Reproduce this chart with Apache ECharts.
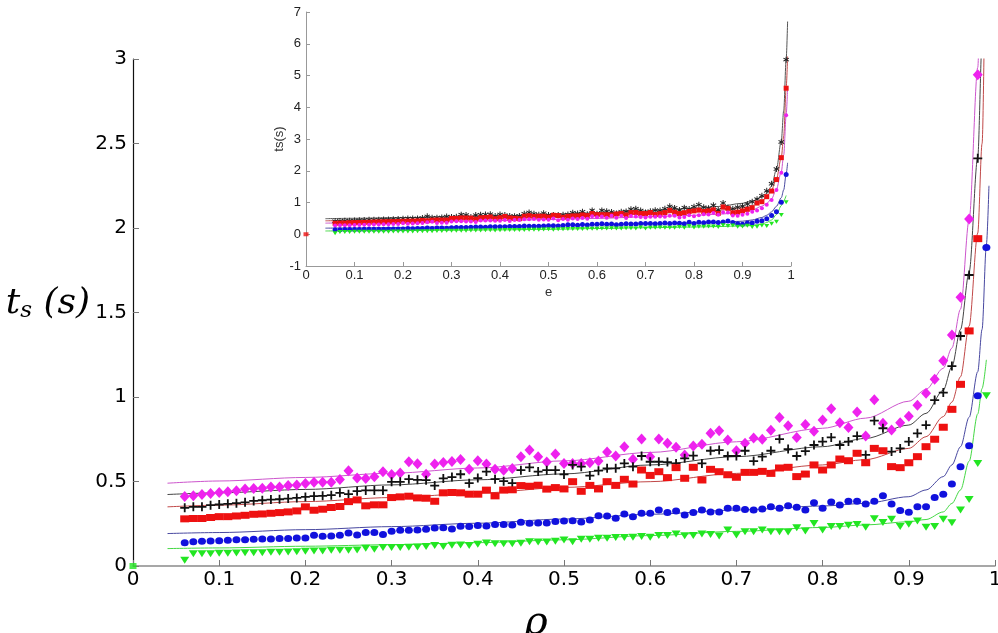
<!DOCTYPE html>
<html><head><meta charset="utf-8">
<script src="https://cdn.jsdelivr.net/npm/echarts@6/dist/echarts.min.js"></script>
<style>html,body{margin:0;padding:0;background:#fff}#c{width:998px;height:633px}</style>
</head><body><div id="c"></div>
<script>
// ---------------- data ----------------
const rho = [
 0.06,0.07,0.08,0.09,0.10,0.11,0.12,0.13,0.14,0.15,
 0.16,0.17,0.18,0.19,0.20,0.21,0.22,0.23,0.24,0.25,
 0.26,0.27,0.28,0.29,0.30,0.31,0.32,0.33,0.34,0.35,
 0.36,0.37,0.38,0.39,0.40,0.41,0.42,0.43,0.44,0.45,
 0.46,0.47,0.48,0.49,0.50,0.51,0.52,0.53,0.54,0.55,
 0.56,0.57,0.58,0.59,0.60,0.61,0.62,0.63,0.64,0.65,
 0.66,0.67,0.68,0.69,0.70,0.71,0.72,0.73,0.74,0.75,
 0.76,0.77,0.78,0.79,0.80,0.81,0.82,0.83,0.84,0.85,
 0.86,0.87,0.88,0.89,0.90,0.91,0.92,0.93,0.94,0.95,
 0.96,0.97,0.98,0.99];
const magentaPts = [
 0.411,0.415,0.423,0.429,0.435,0.439,0.445,0.455,0.458,0.460,
 0.468,0.468,0.476,0.480,0.488,0.496,0.496,0.496,0.512,0.563,
 0.520,0.518,0.528,0.557,0.542,0.551,0.617,0.605,0.543,0.603,
 0.613,0.619,0.630,0.573,0.623,0.603,0.573,0.567,0.577,0.646,
 0.686,0.646,0.615,0.662,0.607,0.607,0.607,0.611,0.621,0.675,
 0.651,0.706,0.631,0.751,0.647,0.751,0.726,0.702,0.657,0.710,
 0.720,0.785,0.801,0.746,0.682,0.726,0.757,0.750,0.803,0.878,
 0.830,0.761,0.838,0.797,0.864,0.931,0.848,0.819,0.911,0.769,
 0.984,0.844,0.805,0.848,0.886,0.951,1.022,1.105,1.215,1.367,
 1.590,2.053,2.907,5.5];
const blackPts = [
 0.344,0.350,0.350,0.360,0.364,0.368,0.372,0.377,0.385,0.389,
 0.393,0.395,0.399,0.403,0.409,0.413,0.415,0.419,0.433,0.425,
 0.443,0.447,0.447,0.447,0.498,0.498,0.514,0.510,0.508,0.476,
 0.518,0.526,0.543,0.490,0.520,0.559,0.514,0.502,0.490,0.567,
 0.583,0.559,0.567,0.567,0.542,0.598,0.588,0.535,0.564,0.578,
 0.578,0.607,0.588,0.651,0.617,0.617,0.615,0.607,0.637,0.653,
 0.607,0.682,0.686,0.651,0.651,0.682,0.621,0.647,0.682,0.751,
 0.692,0.651,0.680,0.716,0.736,0.761,0.716,0.736,0.769,0.657,
 0.860,0.815,0.677,0.696,0.736,0.785,0.834,0.982,1.026,1.183,
 1.361,1.722,2.412,4.6];
const redPts = [
 0.279,0.281,0.281,0.287,0.292,0.292,0.296,0.300,0.306,0.308,
 0.312,0.316,0.320,0.326,0.350,0.330,0.336,0.346,0.352,0.381,
 0.391,0.356,0.362,0.362,0.405,0.409,0.413,0.403,0.401,0.383,
 0.433,0.435,0.433,0.425,0.425,0.449,0.415,0.449,0.451,0.476,
 0.472,0.478,0.455,0.464,0.456,0.499,0.442,0.477,0.456,0.499,
 0.477,0.513,0.485,0.568,0.536,0.558,0.523,0.582,0.519,0.584,
 0.509,0.572,0.558,0.540,0.525,0.554,0.554,0.560,0.548,0.580,
 0.584,0.529,0.544,0.598,0.568,0.598,0.633,0.623,0.667,0.611,
 0.696,0.682,0.588,0.582,0.611,0.647,0.706,0.750,0.821,0.927,
 1.075,1.391,1.937,3.75];
const bluePts = [
 0.138,0.144,0.146,0.148,0.150,0.152,0.156,0.156,0.158,0.160,
 0.160,0.162,0.162,0.166,0.166,0.182,0.176,0.178,0.182,0.196,
 0.184,0.198,0.198,0.186,0.206,0.211,0.211,0.213,0.217,0.225,
 0.227,0.219,0.235,0.233,0.239,0.237,0.245,0.245,0.243,0.259,
 0.253,0.255,0.255,0.263,0.266,0.268,0.260,0.272,0.298,0.296,
 0.282,0.308,0.292,0.312,0.312,0.331,0.316,0.325,0.302,0.316,
 0.331,0.320,0.320,0.341,0.341,0.335,0.331,0.337,0.351,0.341,
 0.357,0.347,0.331,0.375,0.341,0.379,0.361,0.383,0.383,0.367,
 0.383,0.416,0.367,0.329,0.318,0.351,0.351,0.406,0.424,0.485,
 0.588,0.712,1.008,1.884];
const greenPts = [
 0.034,0.073,0.073,0.073,0.075,0.075,0.077,0.079,0.079,0.079,
 0.081,0.081,0.083,0.085,0.087,0.089,0.089,0.093,0.093,0.093,
 0.095,0.105,0.099,0.109,0.109,0.109,0.111,0.113,0.115,0.121,
 0.115,0.123,0.125,0.121,0.128,0.136,0.132,0.132,0.132,0.134,
 0.144,0.142,0.142,0.146,0.154,0.144,0.158,0.158,0.164,0.164,
 0.168,0.168,0.170,0.174,0.170,0.181,0.181,0.189,0.179,0.181,
 0.189,0.187,0.178,0.213,0.183,0.203,0.203,0.213,0.203,0.203,
 0.201,0.227,0.207,0.252,0.213,0.233,0.233,0.241,0.245,0.229,
 0.280,0.258,0.276,0.233,0.247,0.266,0.229,0.233,0.276,0.256,
 0.331,0.394,0.607,1.008];
// fitted curves
const fitRho     = [0.04,0.10,0.20,0.30,0.40,0.50,0.60,0.70,0.80,0.85,0.90,0.92,0.94,0.95,0.96,0.97,0.98,0.985,0.99,0.993];
const fitMagenta = [0.490,0.503,0.524,0.549,0.580,0.622,0.672,0.735,0.815,0.875,0.975,1.045,1.17,1.29,1.52,2.05,2.95,3.9,5.5,6.7];
const fitBlack   = [0.423,0.433,0.453,0.480,0.510,0.545,0.598,0.647,0.706,0.755,0.834,0.903,1.04,1.18,1.40,1.74,2.42,3.1,4.6,5.6];
const fitRed     = [0.350,0.360,0.381,0.405,0.431,0.465,0.499,0.548,0.598,0.630,0.696,0.765,0.884,0.97,1.12,1.42,1.97,2.5,3.75,4.6];
const fitBlue    = [0.192,0.198,0.215,0.233,0.253,0.278,0.306,0.331,0.355,0.371,0.410,0.450,0.529,0.598,0.706,0.88,1.15,1.4,1.9,2.25];
const fitGreen   = [0.103,0.107,0.117,0.126,0.138,0.155,0.180,0.205,0.228,0.243,0.262,0.275,0.32,0.37,0.45,0.62,0.90,1.05,1.22,null];
const originPoint = [0, 0];
// tick labels
const mainXTicks = ['0','0.1','0.2','0.3','0.4','0.5','0.6','0.7','0.8','0.9','1'];
const mainYTicks = ['0','0.5','1','1.5','2','2.5','3'];
const insetYTicks = ['-1','0','1','2','3','4','5','6','7'];

// ---------------- build ----------------
const pairs = (xs, ys) => xs.map((x, i) => [x, ys[i]]);
const xFmt = v => mainXTicks[Math.round(v * 10)];
const yFmt = v => mainYTicks[Math.round(v * 2)];
const iyFmt = v => insetYTicks[Math.round(v) + 1];

const C = {mag:'#ee22ee', blk:'#111111', red:'#ee1111', blu:'#1111dd', grn:'#22e622'};
const L = {mag:'#cc55cc', blk:'#444444', red:'#c04848', blu:'#4848a0', grn:'#44d844'};
const plusPath = 'path://M4,0H6V4H10V6H6V10H4V6H0V4H4Z';
const starPath = 'path://M4.3,0H5.7V3.2L8.6,1.5L9.3,2.7L6.4,4.3L9.3,6L8.6,7.2L5.7,5.5V8.7H4.3V5.5L1.4,7.2L0.7,6L3.6,4.3L0.7,2.7L1.4,1.5L4.3,3.2Z';

function fitLine(ys, color, gi) {
  return {type:'line', xAxisIndex:gi, yAxisIndex:gi, data:pairs(fitRho, ys), showSymbol:false,
    smooth:0.3, smoothMonotone:'x', clip:true, silent:true, z:2,
    lineStyle:{color:color, width:1}};
}
function pts(ys, color, symbol, size, gi, rot) {
  return {type:'scatter', xAxisIndex:gi, yAxisIndex:gi, data:pairs(rho, ys), symbol:symbol,
    symbolSize:size, symbolRotate:rot||0, clip:true, silent:true, z:3,
    itemStyle:{color:color, opacity:1}};
}

const axisTxt = {fontFamily:'DejaVu Sans', color:'#000'};
const option = {
  animation:false,
  backgroundColor:'#fff',
  grid:[
    {left:133, top:59, width:862, height:507, containLabel:false, outerBoundsMode:'none'},
    {left:306, top:12, width:485, height:254, containLabel:false, outerBoundsMode:'none'}
  ],
  xAxis:[
    {gridIndex:0, type:'value', min:0, max:1, interval:0.1,
     name:'\u03c1', nameLocation:'middle', nameGap:38, nameMoveOverlap:false,
     nameTextStyle:{fontFamily:'DejaVu Serif', fontStyle:'italic', fontSize:40, color:'#000', padding:[0,56,0,0]},
     axisLine:{show:true, onZero:false, lineStyle:{color:'#8a8a8a', width:1.5}},
     axisTick:{show:true, inside:true, length:6, lineStyle:{color:'#777'}},
     axisLabel:Object.assign({fontSize:20, margin:4, formatter:xFmt}, axisTxt),
     splitLine:{show:false}},
    {gridIndex:1, type:'value', min:0, max:1, interval:0.1,
     name:'e', nameLocation:'middle', nameGap:20,
     nameTextStyle:{fontFamily:'Liberation Sans', fontSize:13, color:'#333'},
     axisLine:{show:true, onZero:false, lineStyle:{color:'#999', width:1}},
     axisTick:{show:true, inside:true, length:4, lineStyle:{color:'#999'}},
     axisLabel:{fontFamily:'Liberation Sans', fontSize:13, color:'#222', margin:3, formatter:xFmt},
     splitLine:{show:false}}
  ],
  yAxis:[
    {gridIndex:0, type:'value', min:0, max:3, interval:0.5,
     name:'{t|t}{s|s}{p| (s)}', nameLocation:'middle', nameRotate:0, nameGap:43, nameMoveOverlap:false,
     nameTextStyle:{padding:[0,0,18,0], rich:{
       t:{fontFamily:'DejaVu Serif', fontStyle:'italic', fontSize:36, color:'#000'},
       s:{fontFamily:'DejaVu Serif', fontStyle:'italic', fontSize:23, color:'#000', padding:[16,0,0,0]},
       p:{fontFamily:'DejaVu Serif', fontStyle:'italic', fontSize:36, color:'#000'}}},
     axisLine:{show:true, onZero:false, lineStyle:{color:'#111', width:1.2}},
     axisTick:{show:true, inside:true, length:6, lineStyle:{color:'#777'}},
     axisLabel:Object.assign({fontSize:20, margin:6, formatter:yFmt}, axisTxt),
     splitLine:{show:false}},
    {gridIndex:1, type:'value', min:-1, max:7, interval:1,
     name:'ts(s)', nameLocation:'middle', nameRotate:90, nameGap:20,
     nameTextStyle:{fontFamily:'Liberation Sans', fontSize:13, color:'#333'},
     axisLine:{show:true, onZero:false, lineStyle:{color:'#999', width:1}},
     axisTick:{show:true, inside:true, length:4, lineStyle:{color:'#999'}},
     axisLabel:{fontFamily:'Liberation Sans', fontSize:13, color:'#222', margin:5, formatter:iyFmt},
     splitLine:{show:false}}
  ],
  series:[
    fitLine(fitMagenta, L.mag, 0), fitLine(fitBlack, L.blk, 0), fitLine(fitRed, L.red, 0),
    fitLine(fitBlue, L.blu, 0), fitLine(fitGreen, L.grn, 0),
    pts(magentaPts, C.mag, 'diamond', [10,11], 0),
    pts(blackPts, C.blk, plusPath, 9, 0),
    pts(redPts, C.red, 'rect', [9,7], 0),
    pts(bluePts, C.blu, 'circle', [8,7], 0),
    pts(greenPts, C.grn, 'triangle', [9,7], 0, 180),
    {type:'scatter', xAxisIndex:0, yAxisIndex:0, data:[originPoint], symbol:'rect', symbolSize:[7,6],
     clip:false, silent:true, z:4, itemStyle:{color:C.grn}},
    fitLine(fitMagenta, '#555555', 1), fitLine(fitBlack, '#c04848', 1), fitLine(fitRed, '#cc55cc', 1),
    fitLine(fitBlue, L.blu, 1), fitLine(fitGreen, L.grn, 1),
    pts(magentaPts, '#222', starPath, 6, 1),
    pts(blackPts, C.red, 'rect', [5,5], 1),
    pts(redPts, C.mag, 'circle', 4, 1),
    pts(bluePts, C.blu, 'circle', 5, 1),
    pts(greenPts, C.grn, 'triangle', [5,4], 1, 180),
    {type:'scatter', xAxisIndex:1, yAxisIndex:1, data:[originPoint], symbol:'rect', symbolSize:[5,4],
     clip:false, silent:true, z:4, itemStyle:{color:C.red}}
  ]
};
echarts.init(document.getElementById('c'), null, {renderer:'canvas'}).setOption(option);
</script></body></html>
